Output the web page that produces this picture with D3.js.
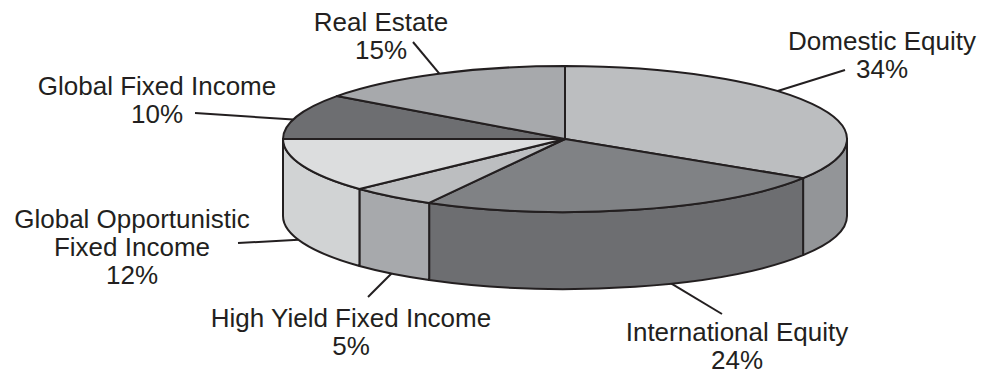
<!DOCTYPE html>
<html>
<head>
<meta charset="utf-8">
<script src="https://cdn.jsdelivr.net/npm/d3@7"></script>
<style>
  html, body { margin: 0; padding: 0; background: #fff; }
  svg { display: block; }
  text { font-family: "Liberation Sans", Arial, Helvetica, sans-serif; fill: #231f20; }
</style>
</head>
<body>
<svg id="chart" width="983" height="375"></svg>
<script>
// Asset allocation, percent of total
const categories = [
  "Domestic Equity",
  "International Equity",
  "High Yield Fixed Income",
  "Global Opportunistic Fixed Income",
  "Global Fixed Income",
  "Real Estate"
];
const values = [34, 24, 5, 12, 10, 15];

// Label text lines (category name split for wrapping)
const labelLines = [
  ["Domestic Equity"],
  ["International Equity"],
  ["High Yield Fixed Income"],
  ["Global Opportunistic", "Fixed Income"],
  ["Global Fixed Income"],
  ["Real Estate"]
];

// Fill colours: top face and outer wall of each slice
const topColors  = ["#bcbec0", "#808285", "#bcbec0", "#dcddde", "#6d6e71", "#a7a9ac"];
const wallColors = ["#939598", "#6d6e71", "#a7a9ac", "#d1d3d4", "#6d6e71", "#a7a9ac"];

// Label placement: text centre / first baseline, leader end near text,
// and where along the slice the leader touches the rim (0..1)
const labelLayout = [
  { x: 882, y: 50,  lx: 845, ly: 70,  at: 0.40 },
  { x: 737, y: 341, lx: 722, ly: 314, at: 0.41 },
  { x: 351, y: 327, lx: 368, ly: 297, at: 0.51 },
  { x: 132, y: 228, lx: 238, ly: 243, at: 0.56 },
  { x: 157, y: 95,  lx: 195, ly: 113, at: 0.43 },
  { x: 381, y: 31,  lx: 413, ly: 42,  at: 0.51 }
];

// Geometry of the tilted pie
const cx = 565, cy = 139, rx = 282, ry = 73, depth = 77;
const lineHeight = 28;
const ink = "#231f20";

const svg = d3.select("#chart");

const data = categories.map((c, i) => ({ name: c, value: values[i], i }));
const arcs = d3.pie().sort(null).value(d => d.value).startAngle(0).endAngle(2 * Math.PI)(data);

// point on the ellipse rim for angle a (0 = top, clockwise), shifted down by dy
const pt = (a, dy = 0) => [cx + rx * Math.sin(a), cy - ry * Math.cos(a) + dy];
const P = p => p[0].toFixed(2) + "," + p[1].toFixed(2);

function topPath(a0, a1) {
  const large = (a1 - a0) > Math.PI ? 1 : 0;
  return `M${cx},${cy}L${P(pt(a0))}A${rx},${ry} 0 ${large} 1 ${P(pt(a1))}Z`;
}

function wallPath(a0, a1) {
  const s = Math.max(a0, Math.PI / 2), e = Math.min(a1, 3 * Math.PI / 2);
  if (s >= e) return null;
  return `M${P(pt(s))}A${rx},${ry} 0 0 1 ${P(pt(e))}` +
         `L${P(pt(e, depth))}A${rx},${ry} 0 0 0 ${P(pt(s, depth))}Z`;
}

// outer walls (front half only)
svg.append("g").selectAll("path")
  .data(arcs.filter(d => wallPath(d.startAngle, d.endAngle)))
  .join("path")
  .attr("d", d => wallPath(d.startAngle, d.endAngle))
  .attr("fill", d => wallColors[d.data.i])
  .attr("stroke", ink)
  .attr("stroke-width", 2)
  .attr("stroke-linejoin", "round");

// top faces
svg.append("g").selectAll("path")
  .data(arcs)
  .join("path")
  .attr("d", d => topPath(d.startAngle, d.endAngle))
  .attr("fill", d => topColors[d.data.i])
  .attr("stroke", ink)
  .attr("stroke-width", 2)
  .attr("stroke-linejoin", "round");

// leader lines
svg.append("g").selectAll("line")
  .data(arcs)
  .join("line")
  .each(function (d) {
    const L = labelLayout[d.data.i];
    const a = d.startAngle + (d.endAngle - d.startAngle) * L.at;
    const front = a > Math.PI / 2 && a < 3 * Math.PI / 2;
    const p = pt(a, front ? depth : 0);
    d3.select(this)
      .attr("x1", p[0]).attr("y1", p[1])
      .attr("x2", L.lx).attr("y2", L.ly);
  })
  .attr("stroke", ink)
  .attr("stroke-width", 2);

// labels
const lbl = svg.append("g").selectAll("text")
  .data(arcs)
  .join("text")
  .attr("text-anchor", "middle")
  .attr("font-size", 26)
  .attr("x", d => labelLayout[d.data.i].x)
  .attr("y", d => labelLayout[d.data.i].y);

lbl.each(function (d) {
  const L = labelLayout[d.data.i];
  const lines = labelLines[d.data.i].concat([d.data.value + "%"]);
  d3.select(this).selectAll("tspan")
    .data(lines)
    .join("tspan")
    .attr("x", L.x)
    .attr("dy", (t, k) => k === 0 ? 0 : lineHeight)
    .text(t => t);
});
</script>
</body>
</html>
